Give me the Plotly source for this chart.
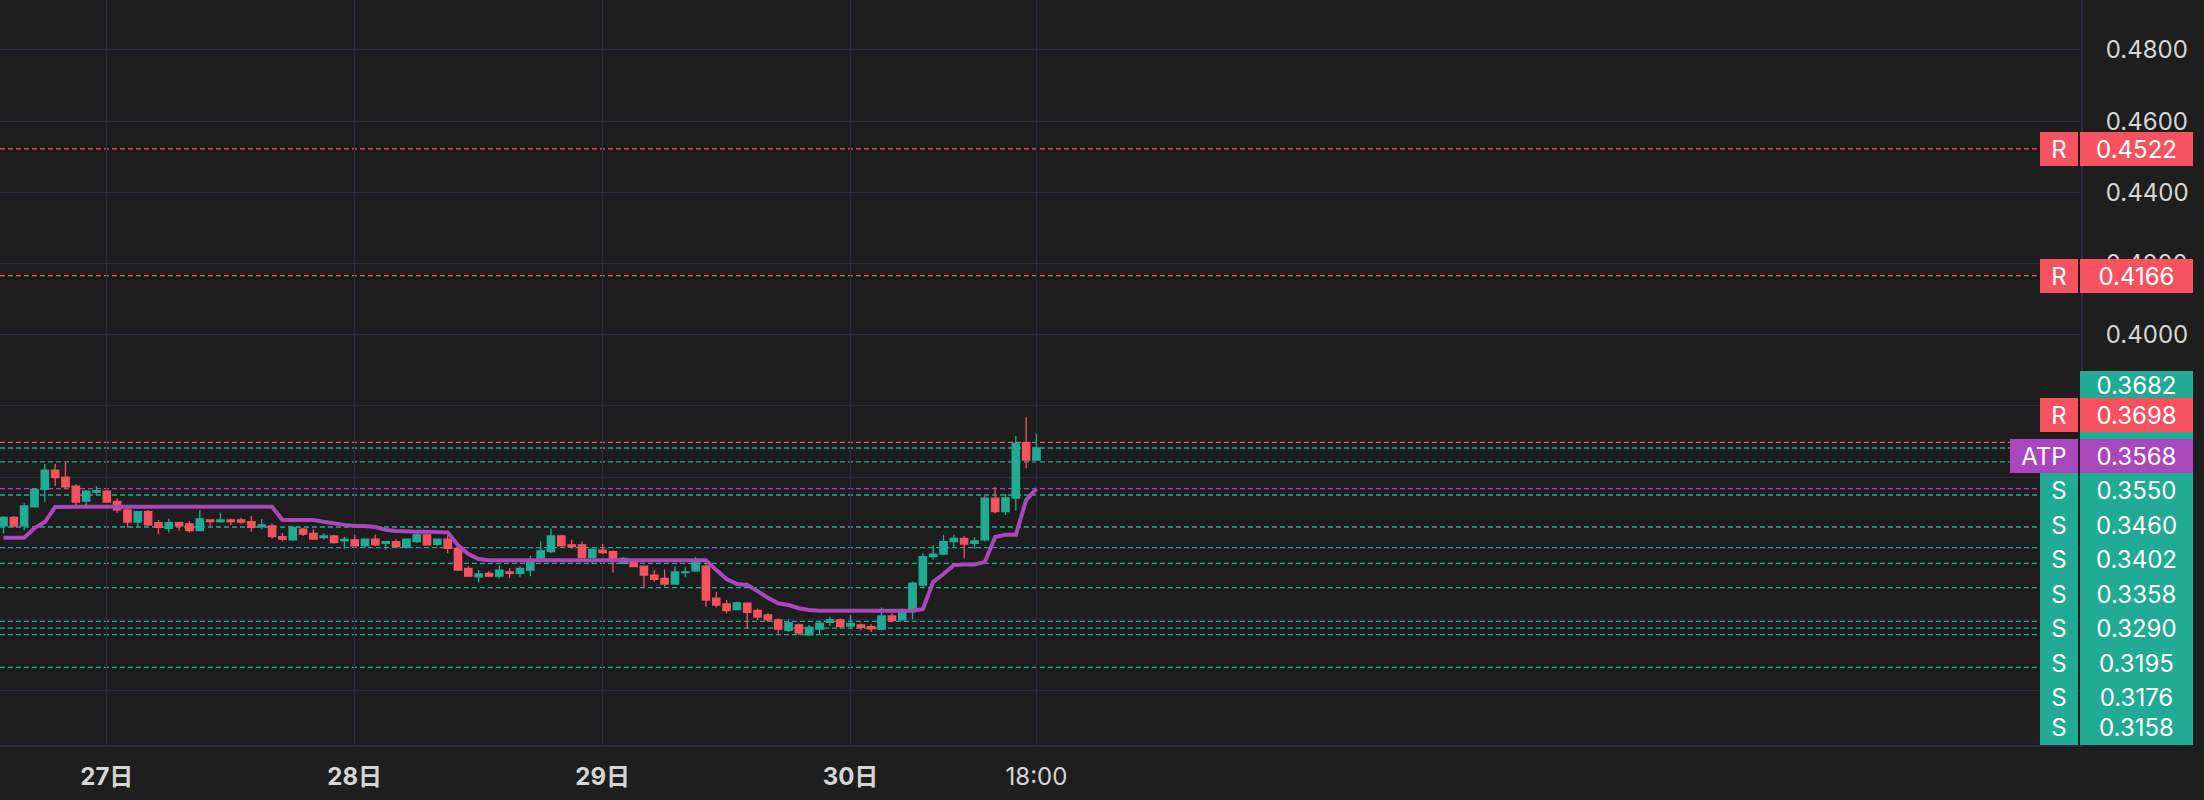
import pandas as pd
import plotly.graph_objects as go

# ---------------- data ----------------
times = pd.date_range("2024-12-26 14:00", "2024-12-30 18:00", freq="h")

opens = [0.3463, 0.3487, 0.3463, 0.3517, 0.3566, 0.3620, 0.3600, 0.3575, 0.3533, 0.3558,
         0.3561, 0.3532, 0.3508, 0.3474, 0.3503, 0.3472, 0.3456, 0.3472, 0.3469, 0.3450,
         0.3480, 0.3475, 0.3480, 0.3480, 0.3475, 0.3461, 0.3463, 0.3433, 0.3424, 0.3454,
         0.3442, 0.3430, 0.3435, 0.3421, 0.3424, 0.3407, 0.3426, 0.3414, 0.3419, 0.3403,
         0.3419, 0.3438, 0.3411, 0.3426, 0.3400, 0.3344, 0.3320, 0.3330, 0.3322, 0.3334,
         0.3330, 0.3339, 0.3369, 0.3391, 0.3435, 0.3410, 0.3410, 0.3375, 0.3395, 0.3391,
         0.3358, 0.3363, 0.3350, 0.3325, 0.3316, 0.3300, 0.3332, 0.3337, 0.3350, 0.3260,
         0.3244, 0.3228, 0.3246, 0.3226, 0.3213, 0.3199, 0.3170, 0.3185, 0.3157, 0.3173,
         0.3192, 0.3199, 0.3182, 0.3185, 0.3180, 0.3173, 0.3210, 0.3199, 0.3225, 0.3297,
         0.3377, 0.3384, 0.3419, 0.3428, 0.3414, 0.3424, 0.3541, 0.3503, 0.3541, 0.3697,
         0.3648]
highs = [0.3491, 0.3491, 0.3527, 0.3568, 0.3637, 0.3637, 0.3641, 0.3580, 0.3564, 0.3575,
         0.3564, 0.3541, 0.3513, 0.3506, 0.3508, 0.3480, 0.3484, 0.3475, 0.3477, 0.3508,
         0.3482, 0.3500, 0.3484, 0.3486, 0.3491, 0.3482, 0.3470, 0.3444, 0.3463, 0.3458,
         0.3454, 0.3442, 0.3438, 0.3433, 0.3438, 0.3428, 0.3438, 0.3421, 0.3426, 0.3428,
         0.3442, 0.3442, 0.3428, 0.3440, 0.3405, 0.3350, 0.3339, 0.3336, 0.3353, 0.3344,
         0.3349, 0.3379, 0.3419, 0.3456, 0.3438, 0.3424, 0.3419, 0.3400, 0.3412, 0.3395,
         0.3375, 0.3366, 0.3351, 0.3339, 0.3341, 0.3349, 0.3347, 0.3375, 0.3356, 0.3278,
         0.3255, 0.3250, 0.3247, 0.3231, 0.3218, 0.3204, 0.3200, 0.3189, 0.3185, 0.3194,
         0.3209, 0.3204, 0.3213, 0.3189, 0.3187, 0.3234, 0.3218, 0.3231, 0.3306, 0.3386,
         0.3409, 0.3438, 0.3438, 0.3435, 0.3431, 0.3547, 0.3572, 0.3553, 0.3716, 0.3768,
         0.3722]
lows = [0.3442, 0.3459, 0.3450, 0.3515, 0.3531, 0.3575, 0.3566, 0.3522, 0.3522, 0.3549,
        0.3528, 0.3500, 0.3459, 0.3459, 0.3463, 0.3440, 0.3444, 0.3450, 0.3444, 0.3448,
        0.3463, 0.3472, 0.3466, 0.3469, 0.3447, 0.3454, 0.3428, 0.3419, 0.3421, 0.3435,
        0.3424, 0.3424, 0.3414, 0.3400, 0.3405, 0.3403, 0.3407, 0.3397, 0.3403, 0.3400,
        0.3416, 0.3408, 0.3407, 0.3386, 0.3337, 0.3320, 0.3304, 0.3319, 0.3316, 0.3316,
        0.3320, 0.3322, 0.3367, 0.3386, 0.3405, 0.3400, 0.3372, 0.3356, 0.3384, 0.3332,
        0.3356, 0.3347, 0.3288, 0.3306, 0.3293, 0.3298, 0.3319, 0.3334, 0.3236, 0.3234,
        0.3218, 0.3226, 0.3175, 0.3199, 0.3194, 0.3160, 0.3165, 0.3157, 0.3154, 0.3157,
        0.3182, 0.3175, 0.3173, 0.3170, 0.3165, 0.3170, 0.3194, 0.3197, 0.3200, 0.3288,
        0.3369, 0.3381, 0.3403, 0.3372, 0.3400, 0.3419, 0.3499, 0.3494, 0.3506, 0.3625,
        0.3648]
closes = [0.3487, 0.3463, 0.3519, 0.3566, 0.3620, 0.3599, 0.3573, 0.3530, 0.3561, 0.3562,
          0.3530, 0.3508, 0.3474, 0.3503, 0.3466, 0.3459, 0.3472, 0.3463, 0.3450, 0.3483,
          0.3475, 0.3480, 0.3475, 0.3474, 0.3459, 0.3466, 0.3433, 0.3426, 0.3459, 0.3440,
          0.3426, 0.3435, 0.3416, 0.3425, 0.3407, 0.3426, 0.3410, 0.3419, 0.3405, 0.3426,
          0.3438, 0.3410, 0.3426, 0.3400, 0.3339, 0.3322, 0.3328, 0.3322, 0.3339, 0.3330,
          0.3344, 0.3363, 0.3393, 0.3435, 0.3407, 0.3405, 0.3375, 0.3397, 0.3388, 0.3367,
          0.3372, 0.3349, 0.3325, 0.3313, 0.3300, 0.3334, 0.3334, 0.3363, 0.3255, 0.3241,
          0.3225, 0.3247, 0.3220, 0.3207, 0.3199, 0.3173, 0.3191, 0.3162, 0.3178, 0.3190,
          0.3199, 0.3180, 0.3189, 0.3178, 0.3174, 0.3210, 0.3197, 0.3222, 0.3302, 0.3377,
          0.3384, 0.3419, 0.3428, 0.3412, 0.3421, 0.3541, 0.3503, 0.3542, 0.3695, 0.3648,
          0.3682]
atp = [0.3430, 0.3430, 0.3430, 0.3457, 0.3474, 0.3516,
       0.3517, 0.3517, 0.3517, 0.3517, 0.3517, 0.3517, 0.3517, 0.3517, 0.3517, 0.3517,
       0.3517, 0.3517, 0.3517, 0.3517, 0.3517, 0.3517, 0.3517, 0.3517, 0.3517, 0.3517,
       0.3517,
       0.3480, 0.3480, 0.3480, 0.3480,
       0.3475, 0.3470, 0.3466, 0.3463, 0.3463, 0.3460, 0.3452, 0.3449, 0.3447,
       0.3447, 0.3447, 0.3447,
       0.3445, 0.3409, 0.3384, 0.3370,
       0.3367, 0.3367, 0.3367, 0.3367, 0.3367, 0.3367, 0.3367, 0.3367, 0.3367, 0.3367,
       0.3367, 0.3367, 0.3367, 0.3367, 0.3367, 0.3367, 0.3367, 0.3367, 0.3367, 0.3367,
       0.3367, 0.3367,
       0.3339, 0.3314, 0.3300, 0.3297, 0.3280, 0.3261, 0.3246, 0.3241, 0.3232, 0.3227, 0.3225,
       0.3225, 0.3225, 0.3225, 0.3225, 0.3225, 0.3225, 0.3225, 0.3225, 0.3225,
       0.3229, 0.3306, 0.3328, 0.3353, 0.3355, 0.3355, 0.3362, 0.3432, 0.3438, 0.3438,
       0.3536, 0.3568]

resistance_levels = [0.4522, 0.4166, 0.3698]
support_lines = [0.3643, 0.3550, 0.3460, 0.3402, 0.3358, 0.3290, 0.3195, 0.3176, 0.3158, 0.3066]
support_labels = [0.3550, 0.3460, 0.3402, 0.3358, 0.3290, 0.3195, 0.3176, 0.3158]
atp_level = 0.3568
last_price = 0.3682

price_ticks = [0.40, 0.42, 0.44, 0.46, 0.48]
tick_dates = ["2024-12-27", "2024-12-28", "2024-12-29", "2024-12-30", "2024-12-30 18:00"]
tick_text = ["<b>27日</b>", "<b>28日</b>", "<b>29日</b>", "<b>30日</b>", "18:00"]

# ---------------- style ----------------
BG = "#1e1e1e"
GRID = "#2b2a42"
UP = "#22ab94"
DOWN = "#f7525f"
PURPLE = "#ab47bc"
TXT = "#d6d6d6"
FONT = "Inter, 'Noto Sans CJK JP', sans-serif"
FS = 24

W, H = 2204, 800
ML, MR, MT, MB = 0, 123, 0, 55
PW, PH = W - ML - MR, H - MT - MB
Y_RANGE = [0.28477, 0.49404]


def px_y(price):
    return MT + (Y_RANGE[1] - price) / (Y_RANGE[1] - Y_RANGE[0]) * PH


def paper_x(px):
    return (px - ML) / PW


def paper_y(py):
    return 1 - (py - MT) / PH


fig = go.Figure()

fig.add_trace(go.Candlestick(
    x=times, open=opens, high=highs, low=lows, close=closes,
    increasing=dict(line=dict(color=UP, width=1.3), fillcolor=UP),
    decreasing=dict(line=dict(color=DOWN, width=1.3), fillcolor=DOWN),
    whiskerwidth=0, hoverinfo="skip", showlegend=False,
))
fig.add_trace(go.Scatter(
    x=times, y=atp, mode="lines", line=dict(color=PURPLE, width=4),
    hoverinfo="skip", showlegend=False,
))

LINE_END = paper_x(2037)
dash = "5px,3px"
shapes = []
for lv in resistance_levels:
    shapes.append(dict(type="line", xref="paper", yref="y", x0=0, x1=LINE_END, y0=lv, y1=lv,
                       line=dict(color=DOWN, width=1.3, dash=dash), layer="between"))
for lv in support_lines + [last_price]:
    shapes.append(dict(type="line", xref="paper", yref="y", x0=0, x1=LINE_END, y0=lv, y1=lv,
                       line=dict(color=UP, width=1.3, dash=dash), layer="between"))
shapes.append(dict(type="line", xref="paper", yref="y", x0=0, x1=LINE_END, y0=atp_level, y1=atp_level,
                   line=dict(color=PURPLE, width=1.3, dash=dash), layer="between"))

annotations = []


def box(text, cy, color, x_left, width, height=34, valign="middle"):
    annotations.append(dict(
        text=text, xref="paper", yref="paper", x=paper_x(x_left), y=paper_y(cy),
        xanchor="left", yanchor="middle", width=width, height=height,
        bgcolor=color, borderpad=0, borderwidth=0, showarrow=False, align="center",
        valign=valign, font=dict(family=FONT, size=FS, color="white"),
    ))


PRICE_X, PRICE_W = 2080, 113
TAG_X, TAG_W = 2040, 38
ATP_X, ATP_W = 2010, 68
LH = 34.5

# isolated resistance labels sit on their own lines
for lv in resistance_levels[:2]:
    cy = px_y(lv)
    box("R", cy, DOWN, TAG_X, TAG_W)
    box(f"{lv:.4f}", cy, DOWN, PRICE_X, PRICE_W)

# stacked cluster near the current price
stack_top = 439
box(f"{last_price:.4f}", stack_top - 34, UP, PRICE_X, PRICE_W, height=68, valign="top")
box("R", 415, DOWN, TAG_X, TAG_W)
box(f"{resistance_levels[2]:.4f}", 415, DOWN, PRICE_X, PRICE_W)
cy = stack_top + LH / 2
box("ATP", cy, PURPLE, ATP_X, ATP_W)
box(f"{atp_level:.4f}", cy, PURPLE, PRICE_X, PRICE_W)
for lv in support_labels:
    cy = min(cy + LH, MT + PH - LH / 2)
    box("S", cy, UP, TAG_X, TAG_W, height=LH)
    box(f"{lv:.4f}", cy, UP, PRICE_X, PRICE_W, height=LH)

x0 = pd.Timestamp("2024-12-27") - pd.Timedelta(hours=10.34)
x1 = pd.Timestamp("2024-12-27") + pd.Timedelta(hours=191.12)

fig.update_layout(
    width=W, height=H, margin=dict(l=ML, r=MR, t=MT, b=MB),
    paper_bgcolor=BG, plot_bgcolor=BG, showlegend=False,
    shapes=shapes, annotations=annotations, hovermode=False,
    boxgap=0.29, boxgroupgap=0,
    xaxis=dict(
        range=[x0, x1], type="date", tickmode="array",
        tickvals=tick_dates, ticktext=tick_text,
        showgrid=True, gridcolor=GRID, gridwidth=1.3, zeroline=False,
        showline=True, linecolor=GRID, linewidth=2,
        ticks="", ticklabelstandoff=9,
        tickfont=dict(family=FONT, size=FS, color=TXT),
        rangeslider=dict(visible=False), fixedrange=True,
    ),
    yaxis=dict(
        range=Y_RANGE, side="right", tickmode="array", tickvals=price_ticks, tickformat=".4f",
        showgrid=True, gridcolor=GRID, gridwidth=1.3, zeroline=False,
        minor=dict(tick0=0.28, dtick=0.02, showgrid=True, gridcolor=GRID, gridwidth=1.3, ticks=""),
        showline=True, linecolor=GRID, linewidth=2,
        ticks="", ticklabelstandoff=18,
        tickfont=dict(family=FONT, size=FS, color=TXT), fixedrange=True,
    ),
)

fig.write_html("out.html", config={"displayModeBar": False},
               post_script="document.body.style.margin='0';")
